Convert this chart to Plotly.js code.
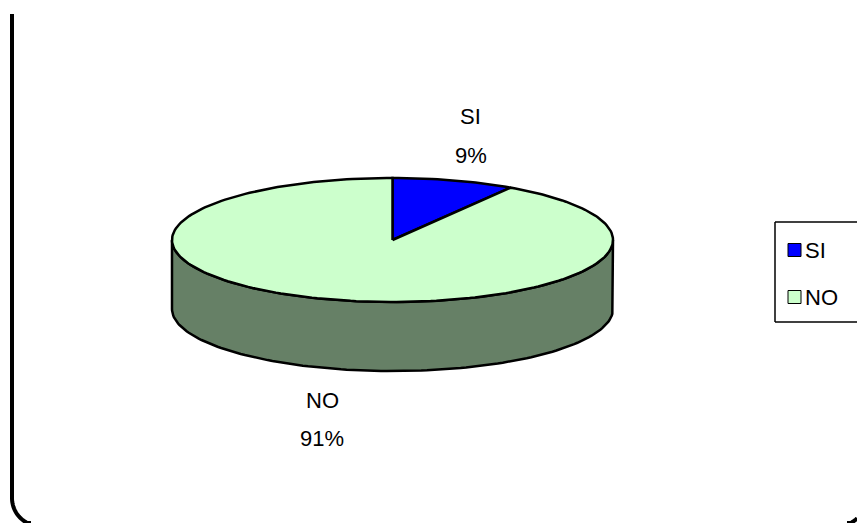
<!DOCTYPE html>
<html>
<head>
<meta charset="utf-8">
<script src="https://cdn.plot.ly/plotly-3.0.1.min.js"></script>
<style>
html,body{margin:0;padding:0;background:#fff;}
#chart{width:857px;height:523px;}
</style>
</head>
<body>
<div id="chart"></div>
<script>
// ---- data ----
const categories = ['SI', 'NO'];
const values = [9, 91];
const topColors = ['#0000FF', '#CCFFCC'];
const sideColors = ['#000080', '#668066'];

// ---- geometry (pixels) ----
const W = 857, H = 523;
const CX = 392.5, CY = 240;          // centre of top ellipse
const RX = 220.5, RY = 62, DEPTH = 69;
const FONT = 'Liberation Sans, Arial, sans-serif';
const FS = 22;

const total = values.reduce((a, b) => a + b, 0);
const D2R = Math.PI / 180;

function arc(a0, a1, n, dy) {
  const xs = [], ys = [];
  for (let i = 0; i <= n; i++) {
    const a = (a0 + (a1 - a0) * i / n) * D2R;
    xs.push(RX * Math.cos(a));
    ys.push(RY * Math.sin(a) + dy);
  }
  return [xs, ys];
}

const traces = [];
const slices = [];
let cum = 0;
values.forEach((v, i) => {
  const hi = 90 - cum / total * 360;
  cum += v;
  const lo = 90 - cum / total * 360;
  slices.push({lo, hi, i});
});

// sides (front half: angles -180..0, modulo 360)
slices.forEach(s => {
  for (let k = -2; k <= 2; k++) {
    const f0 = -180 + 360 * k, f1 = 0 + 360 * k;
    const a0 = Math.max(s.lo, f0), a1 = Math.min(s.hi, f1);
    if (a1 - a0 > 0.01) {
      const n = Math.max(4, Math.ceil((a1 - a0) / 1.5));
      const [tx, ty] = arc(a0, a1, n, 0);
      const [bx, by] = arc(a1, a0, n, -DEPTH);
      traces.push({
        type: 'scatter', mode: 'lines', fill: 'toself',
        x: tx.concat(bx, [tx[0]]), y: ty.concat(by, [ty[0]]),
        fillcolor: sideColors[s.i], line: {color: '#000', width: 2.5},
        hoverinfo: 'skip', showlegend: false
      });
    }
  }
});

// top faces
slices.forEach(s => {
  const n = Math.max(6, Math.ceil((s.hi - s.lo) / 1.5));
  const [ax, ay] = arc(s.hi, s.lo, n, 0);
  traces.push({
    type: 'scatter', mode: 'lines', fill: 'toself',
    x: [0].concat(ax, [0]), y: [0].concat(ay, [0]),
    fillcolor: topColors[s.i], line: {color: '#000', width: 2.5},
    name: categories[s.i], hoverinfo: 'name', showlegend: false
  });
});

const clamp = v => Math.min(1, Math.max(0, v));
const px = x => clamp(x / W);
const py = y => clamp(1 - y / H);

// data labels
const labelPos = [{x: 471, y1: 116, y2: 155}, {x: 322, y1: 400, y2: 438}];
const annotations = [];
categories.forEach((c, i) => {
  const pct = Math.round(values[i] / total * 100) + '%';
  annotations.push({xref: 'paper', yref: 'paper', x: px(labelPos[i].x), y: py(labelPos[i].y1),
    text: c, showarrow: false, xanchor: 'center', yanchor: 'middle', font: {family: FONT, size: FS, color: '#000'}});
  annotations.push({xref: 'paper', yref: 'paper', x: px(labelPos[i].x), y: py(labelPos[i].y2),
    text: pct, showarrow: false, xanchor: 'center', yanchor: 'middle', font: {family: FONT, size: FS, color: '#000'}});
});

const shapes = [];
const hline = (x0, x1, y, w) => shapes.push({type: 'line', xref: 'paper', yref: 'paper',
  x0: px(x0), x1: px(x1), y0: py(y), y1: py(y), line: {color: '#000', width: w}});
const vline = (x, y0, y1, w) => shapes.push({type: 'line', xref: 'paper', yref: 'paper',
  x0: px(x), x1: px(x), y0: py(y0), y1: py(y1), line: {color: '#000', width: w}});

// legend box (runs off the right edge, so no right border)
hline(775, W, 222, 1.5);
hline(775, W, 322, 1.5);
vline(775, 222, 322, 1.5);
const legY = [250, 297];
categories.forEach((c, i) => {
  shapes.push({type: 'rect', xref: 'paper', yref: 'paper', x0: px(788), x1: px(801), y0: py(legY[i] - 6.5), y1: py(legY[i] + 6.5),
    line: {color: '#000', width: 1}, fillcolor: topColors[i]});
  annotations.push({xref: 'paper', yref: 'paper', x: px(803), y: py(legY[i]), text: c, showarrow: false,
    xanchor: 'left', yanchor: 'middle', font: {family: FONT, size: FS, color: '#000'}});
});

// chart frame: left edge + rounded bottom-left corner, and a sliver of the bottom-right corner
const R = 28, BOT = 526;
function cornerPath(cx, cy, a0, a1) {
  let p = '';
  const n = 24;
  for (let i = 0; i <= n; i++) {
    const a = (a0 + (a1 - a0) * i / n) * D2R;
    const x = cx + R * Math.cos(a), y = cy + R * Math.sin(a);
    if (y > H + 2 || x > W + 2) continue;
    p += (p ? ' L' : 'M') + px(x).toFixed(5) + ',' + py(y).toFixed(5);
  }
  return p;
}
vline(12, 14, BOT - R, 4);
shapes.push({type: 'path', xref: 'paper', yref: 'paper', path: cornerPath(12 + R, BOT - R, 180, 90),
  line: {color: '#000', width: 4}});
shapes.push({type: 'path', xref: 'paper', yref: 'paper', path: cornerPath(838, BOT - R, 90, 0),
  line: {color: '#000', width: 4}});

const layout = {
  width: W, height: H,
  margin: {l: 0, r: 0, t: 0, b: 0},
  paper_bgcolor: '#fff', plot_bgcolor: 'rgba(0,0,0,0)',
  xaxis: {range: [-CX, W - CX], visible: false, fixedrange: true},
  yaxis: {range: [-(H - CY), CY], visible: false, fixedrange: true},
  showlegend: false,
  annotations, shapes
};

Plotly.newPlot('chart', traces, layout, {displayModeBar: false, staticPlot: true});
</script>
</body>
</html>
